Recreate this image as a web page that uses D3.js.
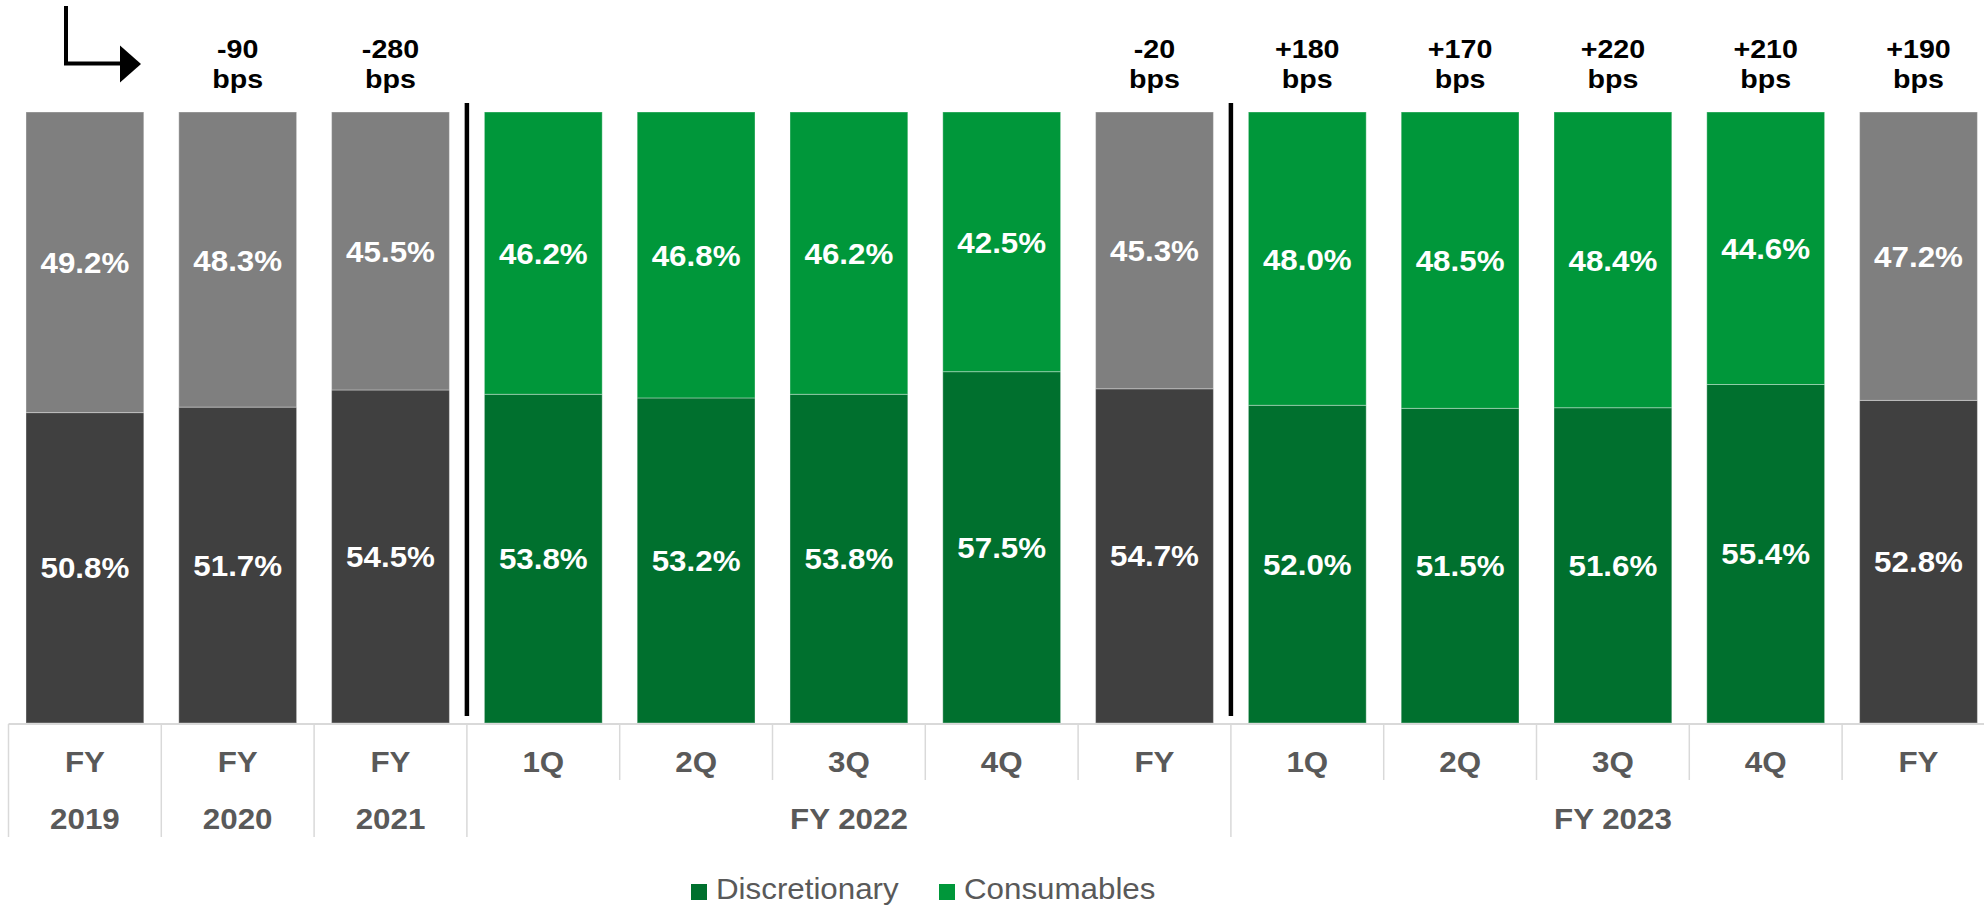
<!DOCTYPE html>
<html>
<head>
<meta charset="utf-8">
<script src="https://cdn.jsdelivr.net/npm/d3@7"></script>
<style>
  html, body { margin: 0; padding: 0; background: #fff; }
  svg { display: block; }
</style>
</head>
<body>
<svg id="chart" width="1984" height="908"></svg>
<script>
// ---- data ----
const categories = ["FY 2019","FY 2020","FY 2021","1Q 2022","2Q 2022","3Q 2022","4Q 2022","FY 2022","1Q 2023","2Q 2023","3Q 2023","4Q 2023","FY 2023"];
const tickLabels = ["FY","FY","FY","1Q","2Q","3Q","4Q","FY","1Q","2Q","3Q","4Q","FY"];
const isAnnual = [true,true,true,false,false,false,false,true,false,false,false,false,true];
const discretionary = [50.8,51.7,54.5,53.8,53.2,53.8,57.5,54.7,52.0,51.5,51.6,55.4,52.8];
const consumables  = [49.2,48.3,45.5,46.2,46.8,46.2,42.5,45.3,48.0,48.5,48.4,44.6,47.2];
const bpsChange    = ["","-90","-280","","","","","-20","+180","+170","+220","+210","+190"];
const yearLabels = [
  {label:"2019", from:0, to:0},
  {label:"2020", from:1, to:1},
  {label:"2021", from:2, to:2},
  {label:"FY 2022", from:3, to:7},
  {label:"FY 2023", from:8, to:12}
];
const separatorsAfter = [2, 7];
const seriesNames = ["Discretionary","Consumables"];

// ---- styles ----
const colors = {
  annualDark: "#404040", annualLight: "#7f7f7f",
  qDark: "#00702e", qLight: "#00973a",
  axis: "#d9d9d9", catText: "#595959"
};
const FONT = "'Liberation Sans', Arial, sans-serif";
const SX = 1.08;

const svg = d3.select("#chart");

const x = d3.scaleBand()
  .domain(categories)
  .range([8.5, 8.5 + 13 * 152.8])
  .paddingInner(0.229)
  .paddingOuter(0.1145);
const y = d3.scaleLinear().domain([0, 100]).range([723, 112]);

function txt(g, xx, yy, s, opts) {
  const t = g.append("text")
    .attr("transform", `translate(${xx},${yy}) scale(${SX},1)`)
    .attr("text-anchor", opts.anchor || "middle")
    .attr("font-family", FONT)
    .attr("font-size", opts.size || 29)
    .attr("font-weight", opts.weight || "bold")
    .attr("fill", opts.fill || "#000")
    .text(s);
  return t;
}

const rows = categories.map((c, i) => ({c, i, d: discretionary[i], k: consumables[i]}));

// bars
const bars = svg.append("g");
rows.forEach(r => {
  const x0 = x(r.c), w = x.bandwidth();
  const dark = isAnnual[r.i] ? colors.annualDark : colors.qDark;
  const light = isAnnual[r.i] ? colors.annualLight : colors.qLight;
  bars.append("rect")
    .attr("x", x0).attr("width", w)
    .attr("y", y(r.d)).attr("height", y(0) - y(r.d))
    .attr("fill", dark).attr("stroke", "#fff").attr("stroke-opacity", 0.35).attr("stroke-width", 1);
  bars.append("rect")
    .attr("x", x0).attr("width", w)
    .attr("y", y(r.d + r.k)).attr("height", y(r.d) - y(r.d + r.k))
    .attr("fill", light).attr("stroke", "#fff").attr("stroke-opacity", 0.35).attr("stroke-width", 1);
});

// value labels
const lab = svg.append("g");
rows.forEach(r => {
  const cx = x(r.c) + x.bandwidth() / 2;
  txt(lab, cx, (y(0) + y(r.d)) / 2 + 10.5, r.d.toFixed(1) + "%", {fill: "#fff"});
  txt(lab, cx, (y(r.d) + y(r.d + r.k)) / 2 + 11, r.k.toFixed(1) + "%", {fill: "#fff"});
  if (bpsChange[r.i]) {
    txt(lab, cx, 58, bpsChange[r.i], {fill: "#000", size: 26.5});
    txt(lab, cx, 88, "bps", {fill: "#000", size: 26.5});
  }
});

// separators
separatorsAfter.forEach(i => {
  const sx = x(categories[i]) + x.bandwidth() + x.step() * x.paddingInner() / 2;
  svg.append("line").attr("x1", sx).attr("x2", sx).attr("y1", 103).attr("y2", 716)
    .attr("stroke", "#000").attr("stroke-width", 4.5);
});

// category axis
const ax = svg.append("g");
const step = x.step();
const bandStart = i => x(categories[i]) - step * x.paddingInner() / 2;
ax.append("line").attr("x1", bandStart(0)).attr("x2", 1984).attr("y1", 724).attr("y2", 724)
  .attr("stroke", colors.axis).attr("stroke-width", 2);
const fullDividers = new Set([0]);
yearLabels.forEach(g => { fullDividers.add(g.from); fullDividers.add(g.to + 1); });
for (let i = 0; i <= categories.length; i++) {
  const dx = bandStart(0) + i * step;
  if (dx > 1984) continue;
  ax.append("line").attr("x1", dx).attr("x2", dx).attr("y1", 724)
    .attr("y2", fullDividers.has(i) ? 837 : 780)
    .attr("stroke", colors.axis).attr("stroke-width", 1.5);
}
rows.forEach(r => {
  txt(ax, x(r.c) + x.bandwidth() / 2, 772, tickLabels[r.i], {fill: colors.catText});
});
yearLabels.forEach(g => {
  const cx = (x(categories[g.from]) + x(categories[g.to]) + x.bandwidth()) / 2;
  txt(ax, cx, 829, g.label, {fill: colors.catText});
});

// arrow (top-left)
const ar = svg.append("g");
ar.append("path").attr("d", "M66,6 L66,63.5 L121,63.5")
  .attr("fill", "none").attr("stroke", "#000").attr("stroke-width", 4);
ar.append("path").attr("d", "M120,45.5 L141,64 L120,82.5 Z").attr("fill", "#000");

// legend
const lg = svg.append("g");
const legendItems = [
  {name: seriesNames[0], color: colors.qDark, sq: 691},
  {name: seriesNames[1], color: colors.qLight, sq: 939}
];
legendItems.forEach(it => {
  lg.append("rect").attr("x", it.sq).attr("y", 884).attr("width", 16).attr("height", 16).attr("fill", it.color);
  txt(lg, it.sq + 25, 899, it.name, {anchor: "start", weight: "normal", fill: colors.catText, size: 29});
});
</script>
</body>
</html>
